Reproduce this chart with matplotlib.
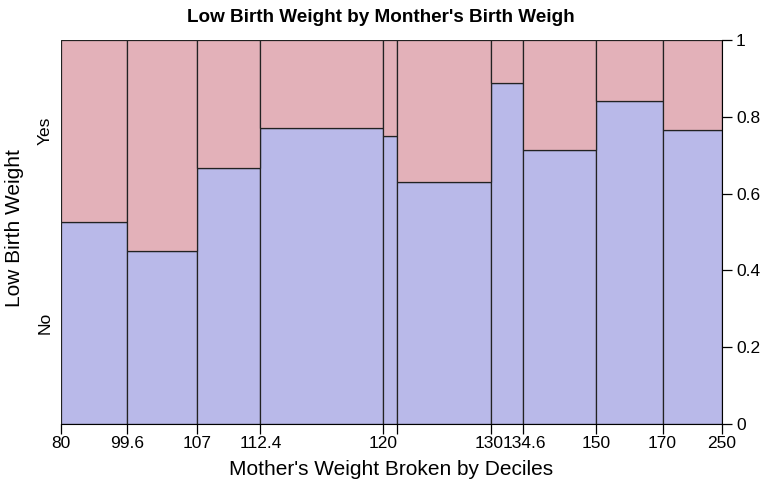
import numpy as np
import matplotlib.pyplot as plt
from matplotlib.transforms import ScaledTranslation

plt.rcParams["font.family"] = ["Liberation Sans", "DejaVu Sans"]

breaks = ["80", "99.6", "107", "112.4", "120", "", "130", "134.6", "150", "170", "250"]
counts = np.array([19, 20, 18, 35, 4, 27, 9, 21, 19, 17])
no_counts = np.array([10, 9, 12, 27, 3, 17, 8, 15, 16, 13])
levels = ["No", "Yes"]

col_no = "#b9b9e9"
col_yes = "#e3b1b9"

total = counts.sum()
widths = counts / total
lefts = np.concatenate([[0], np.cumsum(widths)[:-1]])
p_no = no_counts / counts

fig = plt.figure(figsize=(7.62, 4.84), dpi=100)
ax = fig.add_axes([61 / 762, 1 - 424 / 484, 661 / 762, 384 / 484])

ax.bar(lefts, p_no, width=widths, align="edge", color=col_no, edgecolor="#222222", linewidth=0.9)
ax.bar(lefts, 1 - p_no, width=widths, bottom=p_no, align="edge", color=col_yes,
       edgecolor="#222222", linewidth=0.9)

ax.set_xlim(0, 1)
ax.set_ylim(0, 1)
for s in ["top", "left"]:
    ax.spines[s].set_visible(False)
ax.spines["right"].set_bounds(0, 1)

ticks = np.concatenate([[0], np.cumsum(widths)])
ax.set_xticks(ticks)
ax.set_xticklabels(breaks, fontsize=12.5)
ax.tick_params(axis="x", length=7, width=0.9, pad=2)

# the two close labels: push them apart a touch so they only touch
labs = ax.get_xticklabels()
labs[6].set_transform(labs[6].get_transform() + ScaledTranslation(-2 / 100, 0, fig.dpi_scale_trans))
labs[7].set_transform(labs[7].get_transform() + ScaledTranslation(2 / 100, 0, fig.dpi_scale_trans))

ax.yaxis.tick_right()
ax.set_yticks([0, 0.2, 0.4, 0.6, 0.8, 1])
ax.set_yticklabels(["0", "0.2", "0.4", "0.6", "0.8", "1"], fontsize=12.5)
ax.tick_params(axis="y", length=7, width=0.9, pad=3)

# left side category labels at the middle of the first bar's pieces
ax.text(-0.024, p_no[0] / 2, levels[0], rotation=90, ha="center", va="center",
        fontsize=12.5, transform=ax.transAxes)
ax.text(-0.024, (1 + p_no[0]) / 2, levels[1], rotation=90, ha="center", va="center",
        fontsize=12.5, transform=ax.transAxes)

ax.set_xlabel("Mother's Weight Broken by Deciles", fontsize=15, labelpad=6)
fig.text(15 / 762, 1 - 228 / 484, "Low Birth Weight", rotation=90, ha="center", va="center", fontsize=15)
fig.text(0.5, 1 - 18 / 484, "Low Birth Weight by Monther's Birth Weigh", ha="center", va="center",
         fontsize=13.6, fontweight="bold")

fig.savefig("out.png", dpi=100)
